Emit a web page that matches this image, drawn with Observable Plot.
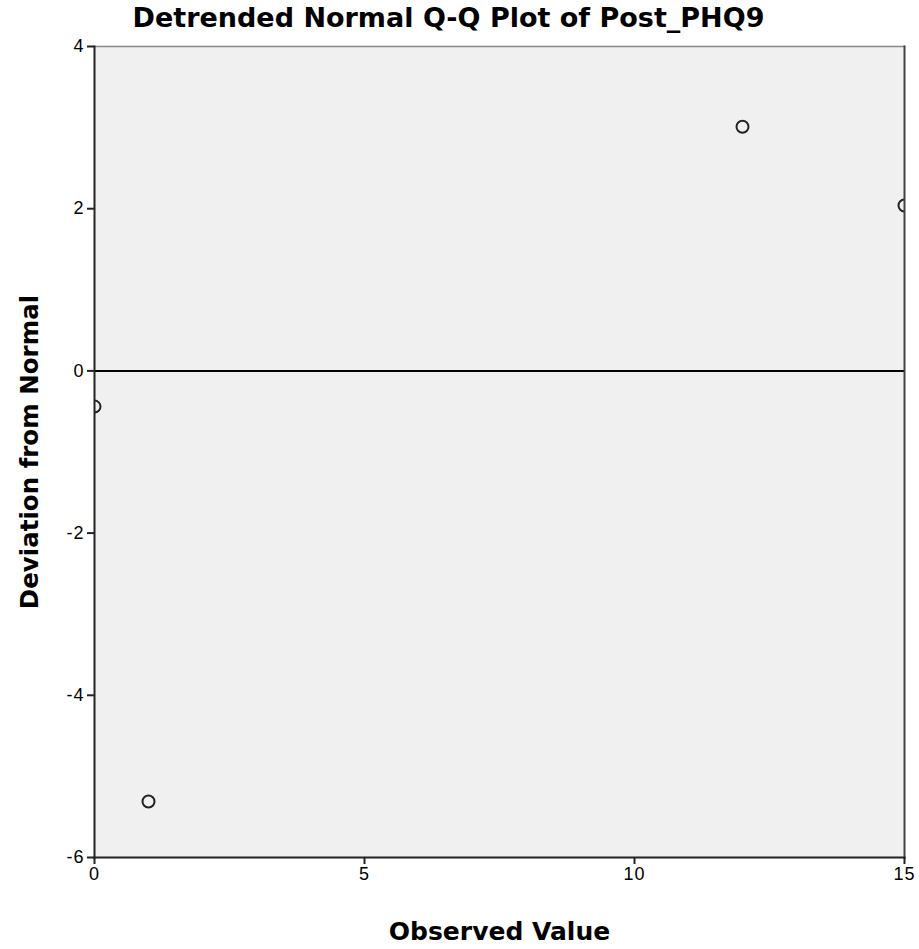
<!DOCTYPE html>
<html>
<head>
<meta charset="utf-8">
<script src="https://cdn.jsdelivr.net/npm/d3@7"></script>
<script src="https://cdn.jsdelivr.net/npm/@observablehq/plot@0.6"></script>
<style>
  body { margin: 0; background: #fff; }
  #chart { position: relative; width: 919px; height: 949px; }
  #title { position: absolute; left: 0; top: 2px; width: 897px; text-align: center; z-index: 2;
           font: bold 27px "DejaVu Sans", sans-serif; color: #000; white-space: nowrap; }
  #chart svg g[aria-label$="tick label"] text { letter-spacing: 1px; }
</style>
</head>
<body>
<div id="chart"><div id="title">Detrended Normal Q-Q Plot of Post_PHQ9</div></div>
<script>
const observedValues = [0, 1, 12, 15];
const deviations = [-0.44, -5.31, 3.01, 2.04];
const xTicks = [0, 5, 10, 15];
const yTicks = [-6, -4, -2, 0, 2, 4];
const title = "Detrended Normal Q-Q Plot of Post_PHQ9";
const xLabel = "Observed Value";
const yLabel = "Deviation from Normal";

const points = observedValues.map((x, i) => ({x, y: deviations[i]}));

const chart = Plot.plot({
  width: 919,
  height: 949,
  marginTop: 46,
  marginLeft: 94,
  marginRight: 15,
  marginBottom: 92,
  style: {fontFamily: "'Liberation Sans', Arial, sans-serif", fontSize: "18px", background: "#fff", color: "#000"},
  x: {domain: [0, 15]},
  y: {domain: [-6, 4]},
  marks: [
    Plot.frame({fill: "#f0f0f0", stroke: null}),
    Plot.ruleY([0], {stroke: "#000", strokeWidth: 2}),
    Plot.dot(points, {x: "x", y: "y", r: 6, stroke: "#222", strokeWidth: 2, fill: "none", clip: true}),
    Plot.frame({anchor: "top", stroke: "#888", strokeWidth: 1.5}),
    Plot.frame({anchor: "right", stroke: "#444", strokeWidth: 2}),
    Plot.frame({anchor: "left", stroke: "#222", strokeWidth: 2}),
    Plot.frame({anchor: "bottom", stroke: "#222", strokeWidth: 2}),
    Plot.axisY(yTicks, {ticks: yTicks, tickSize: 7, tickPadding: 3, fontSize: 18, label: null, stroke: "#222", strokeWidth: 2, tickFormat: d => d < 0 ? "-" + Math.abs(d) : String(d)}),
    Plot.axisX(xTicks, {ticks: xTicks, tickSize: 7, tickPadding: 3, fontSize: 18, label: null, stroke: "#222", strokeWidth: 2}),
    Plot.text([xLabel], {text: d => d, frameAnchor: "bottom", lineAnchor: "middle", textAnchor: "middle", dy: 74, fontSize: 25, fontWeight: "bold", fontFamily: "DejaVu Sans", fill: "#000"}),
    Plot.text([yLabel], {text: d => d, frameAnchor: "left", lineAnchor: "middle", textAnchor: "middle", dx: -64, rotate: -90, fontSize: 24.5, fontWeight: "bold", fontFamily: "DejaVu Sans", fill: "#000"})
  ]
});
document.getElementById("chart").appendChild(chart);
chart.style.position = "absolute";
chart.style.left = "0";
chart.style.top = "0";
chart.style.zIndex = "1";
</script>
</body>
</html>
